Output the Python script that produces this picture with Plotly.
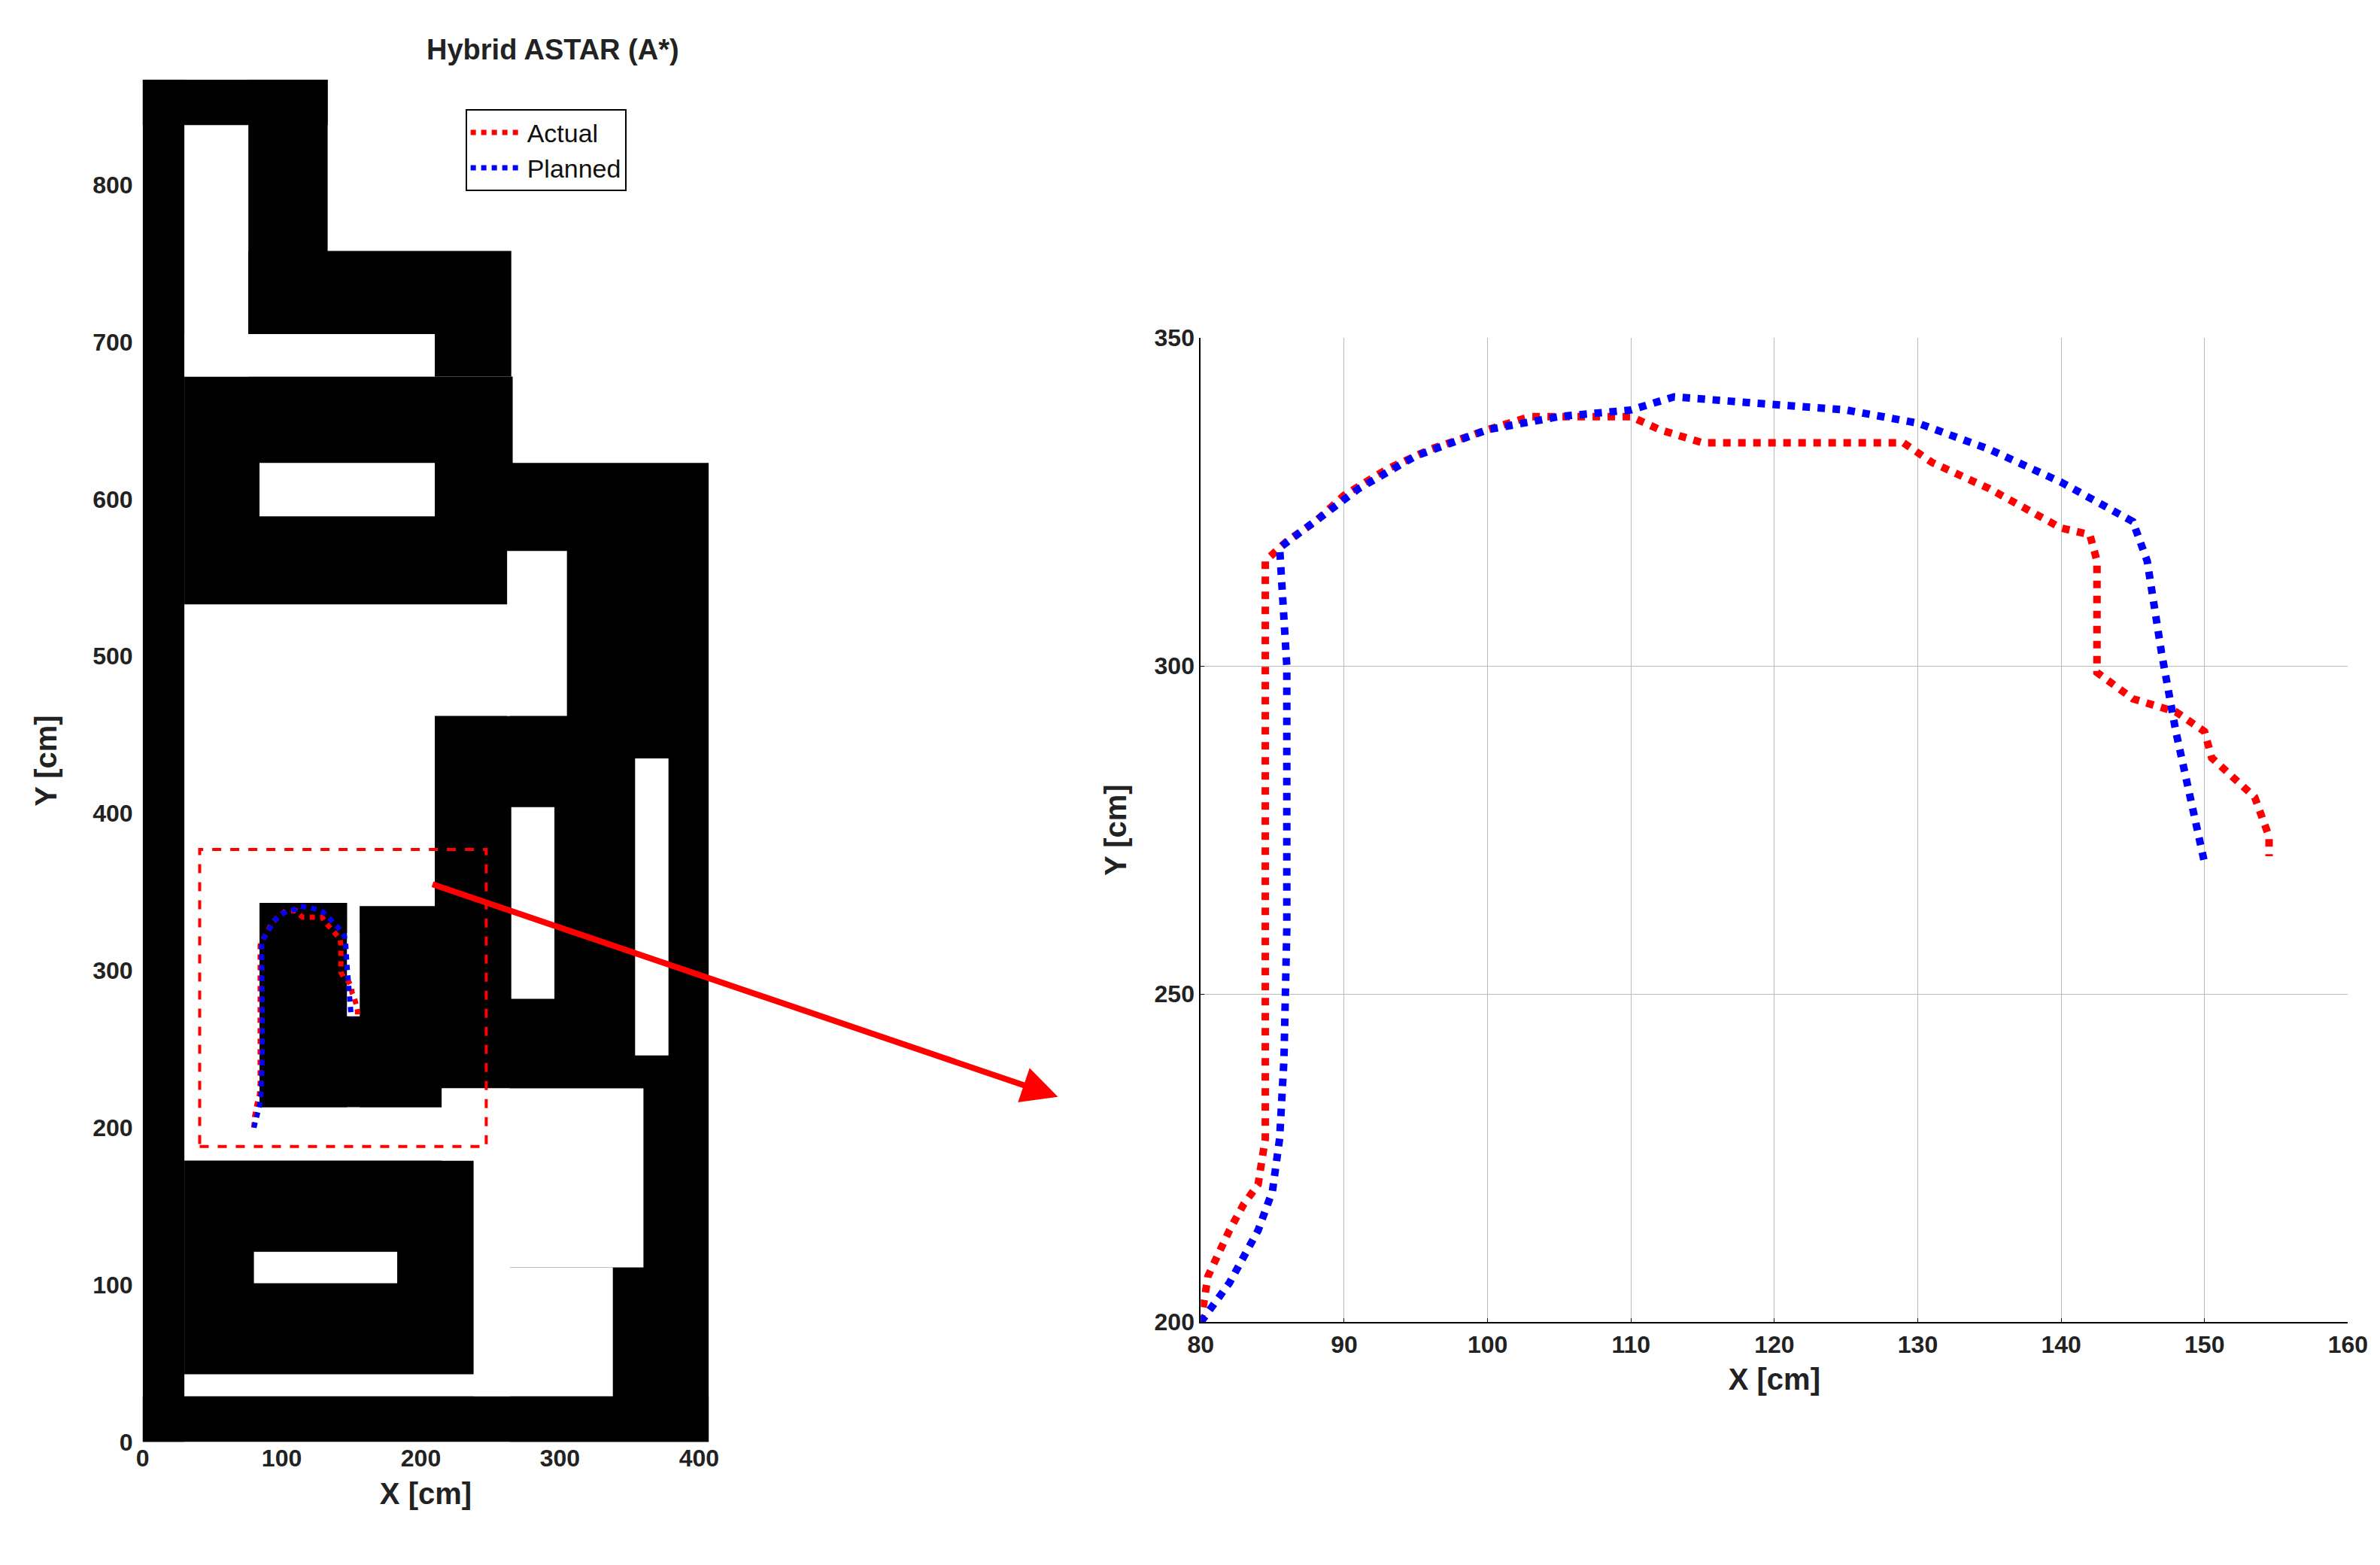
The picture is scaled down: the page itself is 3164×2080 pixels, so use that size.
import plotly.graph_objects as go

act_x=[80,80.5,82,83,84,84.5,84.5,86,88,90,93,96,100,103,106,110,112,115,120,125,129,131,135,140,142,142.5,142.5,145,148,150,150.5,152,153.5,154,154.5,154.5]
act_y=[200,207,214,218,221,228,316,319,322,326,330,333,336,338,338,338,336,334,334,334,334,331,327,321,320,316,299,295,293,290,286,283,280,277,274,271]
pln_x=[80,82,84,85,85.5,85.8,86,86,85.5,88,91,95,100,105,110,113,120,125,130,135,140,145,146,147,148,149,150]
pln_y=[200,206,214,220,228,240,260,300,318,322,327,332,336,338,339,341,340,339,337,333,328,322,316,302,290,280,270]

# map obstacles [x0,x1,y0,y1] in cm
black=[[0,30,0,867],[0,133,838,867],[76,133,705,867],[76,265,678,758],[30,266,533,678],
       [264,407,0,623],[0,407,0,29],[30,238,43,179],[84,147,213,343],[156,215,213,341],
       [84,215,213,271],[210,266,225,462]]
white=[[84,210,589,623],[30,210,678,705],[262,305,462,567],[354,378,246,435],
       [238,360,111,225],[215,238,179,225],[238,338,29,111],[265,296,282,404],[80,183,101,121],[147,156,271,324]]

F="Liberation Sans"
fig=go.Figure()
shapes=[]
for r in black:
    shapes.append(dict(type="rect",xref="x",yref="y",x0=r[0],x1=r[1],y0=r[2],y1=r[3],fillcolor="black",line_width=0,layer="below"))
for r in white:
    shapes.append(dict(type="rect",xref="x",yref="y",x0=r[0],x1=r[1],y0=r[2],y1=r[3],fillcolor="white",line_width=0,layer="below"))
shapes.append(dict(type="rect",xref="x",yref="y",x0=41,x1=247,y0=188,y1=377,line=dict(color="red",width=4,dash="dash")))

fig.add_trace(go.Scatter(x=act_x,y=act_y,mode="lines",name="Actual",line=dict(color="red",width=7,dash="dot")))
fig.add_trace(go.Scatter(x=pln_x,y=pln_y,mode="lines",name="Planned",line=dict(color="blue",width=7,dash="dot")))
fig.add_trace(go.Scatter(x=act_x,y=act_y,mode="lines",showlegend=False,xaxis="x2",yaxis="y2",line=dict(color="red",width=10,dash="dot")))
fig.add_trace(go.Scatter(x=pln_x,y=pln_y,mode="lines",showlegend=False,xaxis="x2",yaxis="y2",line=dict(color="blue",width=10,dash="dot")))

tf=dict(family=F,size=32,color="#222",weight="bold")
ttl=dict(family=F,size=40,color="#222")
fig.update_layout(
    width=3164,height=2080,paper_bgcolor="white",plot_bgcolor="white",
    margin=dict(l=0,r=0,t=0,b=0),shapes=shapes,
    xaxis=dict(domain=[0.0574,0.2953],range=[0,407],tickvals=[0,100,200,300,400],showgrid=False,zeroline=False,automargin=False,
               tickfont=tf,title=dict(text="<b>X [cm]</b>",font=ttl,standoff=15)),
    yaxis=dict(domain=[0.0825,0.953],range=[0,867],tickvals=list(range(0,900,100)),showgrid=False,zeroline=False,automargin=False,
               tickfont=tf,ticklabelstandoff=12,title=dict(text="<b>Y [cm]</b>",font=ttl,standoff=35)),
    xaxis2=dict(domain=[0.502,0.984],range=[80,160],dtick=10,anchor="y2",showgrid=True,gridcolor="#bbb",zeroline=False,automargin=False,
                showline=True,linecolor="black",linewidth=2,ticks="inside",tickcolor="black",tickfont=tf,
                title=dict(text="<b>X [cm]</b>",font=ttl,standoff=15)),
    yaxis2=dict(domain=[0.159,0.788],range=[200,350],dtick=50,anchor="x2",showgrid=True,gridcolor="#bbb",zeroline=False,automargin=False,
                showline=True,linecolor="black",linewidth=2,ticks="inside",tickcolor="black",tickfont=tf,
                title=dict(text="<b>Y [cm]</b>",font=ttl,standoff=25)),
    legend=dict(x=0.193,y=0.934,xanchor="left",yanchor="top",bgcolor="white",bordercolor="black",borderwidth=2,
                itemwidth=70,font=dict(family=F,size=34,color="#111")),
    annotations=[
        dict(text="<b>Hybrid ASTAR (A*)</b>",x=0.176,y=0.972,xref="paper",yref="paper",showarrow=False,
             font=dict(family=F,size=38,color="#222"),yanchor="middle"),
        dict(x=0.442,y=0.303,ax=-833,ay=-283,xref="paper",yref="paper",
             text="",showarrow=True,arrowhead=2,arrowsize=1.2,arrowwidth=8,arrowcolor="red"),
    ],
)
fig.write_html("out.html")
